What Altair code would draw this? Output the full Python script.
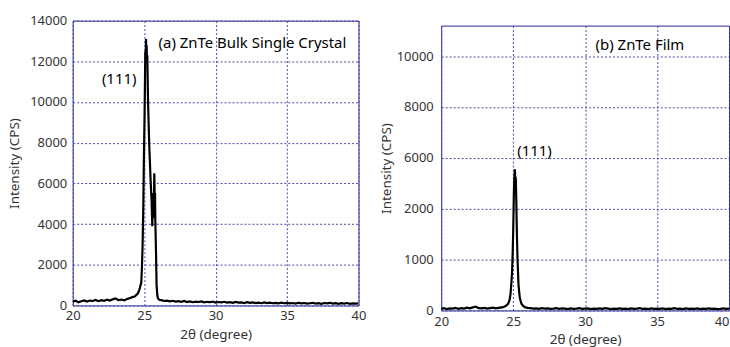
import altair as alt
import pandas as pd

FONT = "Noto Sans"
FRAME = "#26268c"
GRID = "#4a4aa8"
TXT = "#333333"

x_ticks = [20, 25, 30, 35, 40]

# ---------------- (a) ZnTe bulk single crystal ----------------
a_pre_start = 20.0  # sampled every 0.2 deg up to 24.2
a_pre_vals = [180, 230, 160, 210, 250, 190, 240, 220, 270, 210, 260,
              230, 280, 240, 300, 340, 260, 290, 250, 320, 360, 420]
a_peak_theta = [24.34, 24.45, 24.57, 24.68, 24.75, 24.80, 24.85, 24.89, 24.94, 24.98,
                25.03, 25.06, 25.08, 25.10, 25.13, 25.15, 25.17, 25.20, 25.22, 25.27,
                25.32, 25.36, 25.45, 25.52, 25.57, 25.60, 25.64, 25.67, 25.71, 25.74,
                25.76, 25.78, 25.83, 25.87, 25.92, 25.96, 26.05]
a_peak_vals = [440, 520, 600, 800, 1000, 1130, 2000, 2920, 4870, 7150,
               9430, 11200, 12500, 12000, 13100, 12300, 12800, 12000, 12300, 10080,
               8800, 7800, 6180, 5120, 3900, 4800, 5530, 4300, 6500, 5200,
               5530, 4230, 2600, 1000, 500, 360, 280]
a_post_start = 26.2  # sampled every 0.2 deg up to 40
a_post_vals = [260, 220, 240, 200, 230, 190, 210, 180, 220, 170,
               200, 160, 190, 170, 200, 150, 180, 160, 190, 140,
               170, 150, 180, 140, 160, 130, 170, 140, 150, 120,
               160, 130, 150, 120, 140, 110, 150, 120, 140, 110,
               130, 100, 140, 110, 130, 100, 120, 90, 130, 100,
               120, 90, 110, 130, 90, 110, 80, 120, 100, 130,
               90, 110, 80, 110, 90, 120, 80, 100, 90, 100]
a_y_ticks = [0, 2000, 4000, 6000, 8000, 10000, 12000, 14000]
a_y_max = 14000

ann_a_text = ["(a) ZnTe Bulk Single Crystal", "(111)"]
ann_a_theta = [26.01, 24.46]
ann_a_int = [12920, 11150]
ann_a_align = ["left", "right"]

# ---------------- (b) ZnTe film ----------------
b_pre_start = 20.0
b_pre_vals = [60, 90, 50, 80, 70, 100, 60, 90, 70, 110, 80,
              120, 150, 90, 80, 100, 70, 90, 110, 80, 100, 120]
b_peak_theta = [24.31, 24.50, 24.65, 24.75, 24.82, 24.88, 24.93, 24.97, 25.00, 25.03,
                25.05, 25.08, 25.12, 25.15, 25.17, 25.19, 25.22, 25.24, 25.27, 25.30,
                25.34, 25.37, 25.42, 25.46, 25.52, 25.58, 25.70, 25.81, 26.00]
b_peak_vals = [130, 180, 260, 400, 660, 1100, 1570, 2300, 3010, 3900,
               4570, 5200, 5550, 5000, 5250, 5090, 4300, 3650, 2800, 2090,
               1500, 1040, 720, 520, 370, 260, 180, 130, 100]
b_post_start = 26.2
b_post_vals = [90, 70, 80, 60, 90, 70, 80, 60, 70, 90,
               60, 80, 70, 50, 80, 60, 70, 90, 60, 70,
               80, 50, 70, 60, 80, 60, 90, 70, 50, 70,
               60, 80, 60, 70, 50, 80, 60, 70, 90, 60,
               70, 50, 80, 60, 70, 60, 80, 50, 70, 60,
               90, 60, 70, 50, 80, 60, 70, 60, 80, 50,
               70, 60, 80, 60, 70, 50, 60, 80, 60, 70]
b_y_ticks = [0, 2000, 4000, 6000, 8000, 10000]
b_y_labels = ["0", "1000", "2000", "6000", "8000", "10000"]
b_y_max = 11200

ann_b_text = ["(b) ZnTe Film", "(111)"]
ann_b_theta = [30.73, 25.28]
ann_b_int = [10440, 6270]
ann_b_align = ["left", "left"]


def series(pre_start, pre_vals, peak_theta, peak_vals, post_start, post_vals):
    th = [round(pre_start + 0.2 * i, 2) for i in range(len(pre_vals))]
    th += list(peak_theta)
    th += [round(post_start + 0.2 * i, 2) for i in range(len(post_vals))]
    v = list(pre_vals) + list(peak_vals) + list(post_vals)
    return pd.DataFrame({"theta": th, "intensity": v})


def panel(df, y_max, y_ticks, texts, thetas, ints, aligns, w, h,
          x_lab_pad, x_title_pad, y_lab_pad, y_title_pad, label_expr=None,
          last_right=False):
    xs = alt.Scale(domain=[20, 40], nice=False, zero=False)
    ys = alt.Scale(domain=[0, y_max], nice=False)
    yaxis_kwargs = dict(values=y_ticks, title="Intensity (CPS)", format="d",
                        labelPadding=y_lab_pad, titlePadding=y_title_pad)
    if label_expr:
        yaxis_kwargs["labelExpr"] = label_expr
    xaxis_kwargs = dict(values=x_ticks, title="2θ (degree)", format="d",
                        labelPadding=x_lab_pad, titlePadding=x_title_pad)
    if last_right:
        xaxis_kwargs["labelAlign"] = alt.condition("datum.value == 40",
                                                   alt.value("right"), alt.value("center"))
    x_enc = alt.X("theta:Q", scale=xs, axis=alt.Axis(**xaxis_kwargs))
    y_enc = alt.Y("intensity:Q", scale=ys, axis=alt.Axis(**yaxis_kwargs))
    line = alt.Chart(df).mark_line(color="black", strokeWidth=2.2, clip=True).encode(
        x=x_enc, y=y_enc)
    layers = [line]
    for t, th, it, al in zip(texts, thetas, ints, aligns):
        tdf = pd.DataFrame({"theta": [th], "intensity": [it], "label": [t]})
        layers.append(
            alt.Chart(tdf).mark_text(align=al, baseline="middle", font=FONT,
                                     fontSize=15, color="black").encode(
                x=alt.X("theta:Q", scale=xs),
                y=alt.Y("intensity:Q", scale=ys),
                text="label:N"))
    return alt.layer(*layers).properties(width=w, height=h)


df_a = series(a_pre_start, a_pre_vals, a_peak_theta, a_peak_vals, a_post_start, a_post_vals)
df_b = series(b_pre_start, b_pre_vals, b_peak_theta, b_peak_vals, b_post_start, b_post_vals)

expr = " : ".join(
    [f"datum.value == {v} ? '{l}'" for v, l in zip(b_y_ticks, b_y_labels)]) + " : ''"

left = panel(df_a, a_y_max, a_y_ticks, ann_a_text, ann_a_theta, ann_a_int, ann_a_align,
             287, 286, 4, 5, 6, 8)
right = panel(df_b, b_y_max, b_y_ticks, ann_b_text, ann_b_theta, ann_b_int, ann_b_align,
              289, 286, 5, 4, 8, 3, label_expr=expr, last_right=True)

spacer = alt.Chart(pd.DataFrame({"v": [0]})).mark_point(opacity=0).encode(
    x=alt.value(0), y=alt.value(0)
).properties(width=289, height=5, view=alt.ViewBackground(stroke="transparent"))

chart = alt.hconcat(
    left,
    alt.vconcat(spacer, right, spacing=0, bounds="flush"),
    spacing=83, bounds="flush",
).properties(
    padding={"left": 7, "top": 13, "right": 0, "bottom": 0},
    background="white",
).configure_view(
    stroke=FRAME, strokeWidth=1
).configure_axis(
    grid=True, gridColor=GRID, gridDash=[2, 2], gridWidth=1, gridOpacity=1,
    domain=False, ticks=False, labelFlush=False, labelOverlap=False,
    labelFont=FONT, labelFontSize=13, labelColor=TXT,
    titleFont=FONT, titleFontSize=13.5, titleColor=TXT, titleFontWeight="normal",
)

chart.save("out.html", embed_options={"renderer": "svg", "actions": False})
